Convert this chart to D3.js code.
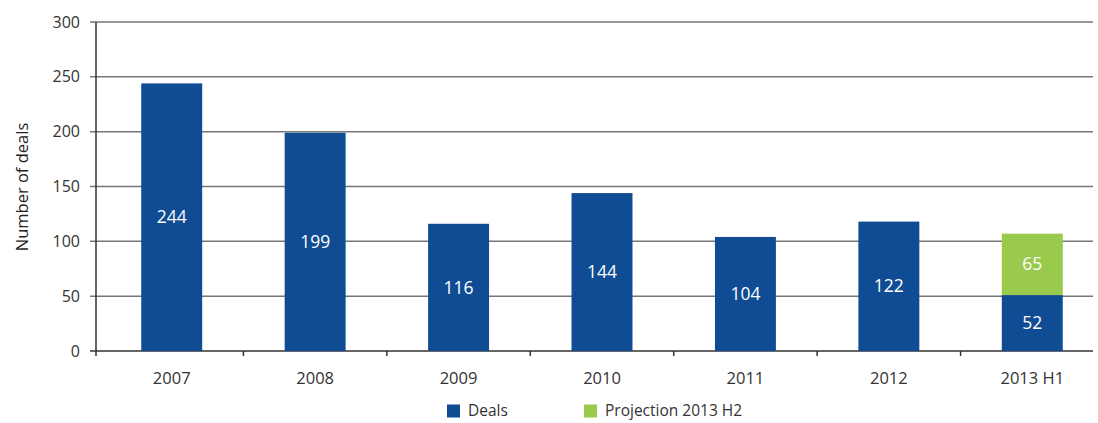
<!DOCTYPE html>
<html>
<head>
<meta charset="utf-8">
<title>Number of deals</title>
<style>
  body { margin: 0; background: #fff; }
  text { font-family: "Open Sans", "Noto Sans", sans-serif; }
</style>
</head>
<body>
<div id="chart"></div>
<script src="https://d3js.org/d3.v7.min.js"></script>
<script>
// values (bar heights) and the printed labels
const categories = ['2007', '2008', '2009', '2010', '2011', '2012', '2013 H1'];
const deals = [244, 199, 116, 144, 104, 118, 51];
const projection = [0, 0, 0, 0, 0, 0, 56];
const dealLabels = ['244', '199', '116', '144', '104', '122', '52'];
const projectionLabels = ['', '', '', '', '', '', '65'];
const yTicks = [0, 50, 100, 150, 200, 250, 300];
const seriesNames = ['Deals', 'Projection 2013 H2'];

const blue = '#104c93';
const green = '#9aca4b';

const W = 1098, H = 423;
const svg = d3.select('#chart').append('svg').attr('width', W).attr('height', H);

const x = d3.scaleBand().domain(categories).range([100, 1104])
  .paddingInner(0.575).paddingOuter(0.2875);
const xEdge = d3.scaleBand().domain(categories).range([100, 1104]);
const y = d3.scaleLinear().domain([0, 300]).range([351, 22]);

// gridlines + y ticks
svg.append('g').selectAll('line').data(yTicks).join('line')
  .attr('x1', 90).attr('x2', 1093)
  .attr('y1', d => y(d)).attr('y2', d => y(d))
  .attr('stroke', d => d === 0 ? '#333' : '#767676')
  .attr('stroke-width', 1.5);

svg.append('g').selectAll('text').data(yTicks).join('text')
  .attr('x', 80).attr('y', d => y(d)).attr('dy', '0.35em')
  .attr('text-anchor', 'end').attr('font-size', 16).attr('fill', '#333')
  .text(d => d);

// y axis line
svg.append('line').attr('x1', 96).attr('x2', 96).attr('y1', 22).attr('y2', 356)
  .attr('stroke', '#333').attr('stroke-width', 1.5);

// x axis ticks between categories
svg.append('g').selectAll('line').data(categories.slice(1)).join('line')
  .attr('x1', d => xEdge(d)).attr('x2', d => xEdge(d))
  .attr('y1', 351).attr('y2', 356)
  .attr('stroke', '#333').attr('stroke-width', 1.5);

// bars
svg.append('g').selectAll('rect').data(categories).join('rect')
  .attr('x', d => x(d)).attr('width', x.bandwidth())
  .attr('y', (d, i) => y(deals[i])).attr('height', (d, i) => y(0) - y(deals[i]))
  .attr('fill', blue);

svg.append('g').selectAll('rect').data(categories.filter((d, i) => projection[i] > 0)).join('rect')
  .attr('x', d => x(d)).attr('width', x.bandwidth())
  .attr('y', d => { const i = categories.indexOf(d); return y(deals[i] + projection[i]); })
  .attr('height', d => { const i = categories.indexOf(d); return y(deals[i]) - y(deals[i] + projection[i]); })
  .attr('fill', green);

// bar labels
svg.append('g').selectAll('text').data(categories).join('text')
  .attr('x', d => x(d) + x.bandwidth() / 2)
  .attr('y', (d, i) => (y(0) + y(deals[i])) / 2).attr('dy', '0.35em')
  .attr('text-anchor', 'middle').attr('font-size', 17.5).attr('fill', '#fff')
  .text((d, i) => dealLabels[i]);

svg.append('g').selectAll('text').data(categories.filter((d, i) => projection[i] > 0)).join('text')
  .attr('x', d => x(d) + x.bandwidth() / 2)
  .attr('y', d => { const i = categories.indexOf(d); return (y(deals[i]) + y(deals[i] + projection[i])) / 2; })
  .attr('dy', '0.35em')
  .attr('text-anchor', 'middle').attr('font-size', 17.5).attr('fill', '#fff')
  .text(d => projectionLabels[categories.indexOf(d)]);

// x labels
svg.append('g').selectAll('text').data(categories).join('text')
  .attr('x', d => x(d) + x.bandwidth() / 2).attr('y', 378).attr('dy', '0.35em')
  .attr('text-anchor', 'middle').attr('font-size', 16.5).attr('fill', '#333')
  .text(d => d);

// y title
svg.append('text').attr('transform', 'translate(22,187) rotate(-90)')
  .attr('text-anchor', 'middle').attr('dy', '0.35em')
  .attr('font-size', 16.5).attr('fill', '#222').text('Number of deals');

// legend
const legend = svg.append('g').selectAll('g').data(seriesNames).join('g')
  .attr('transform', (d, i) => 'translate(' + [447, 584][i] + ',411)');
legend.append('rect').attr('x', 0).attr('y', -6.5).attr('width', 13).attr('height', 13)
  .attr('fill', (d, i) => [blue, green][i]);
legend.append('text').attr('x', 21).attr('dy', '0.35em')
  .attr('font-size', 15.5).attr('fill', '#333').text(d => d);
</script>
</body>
</html>
